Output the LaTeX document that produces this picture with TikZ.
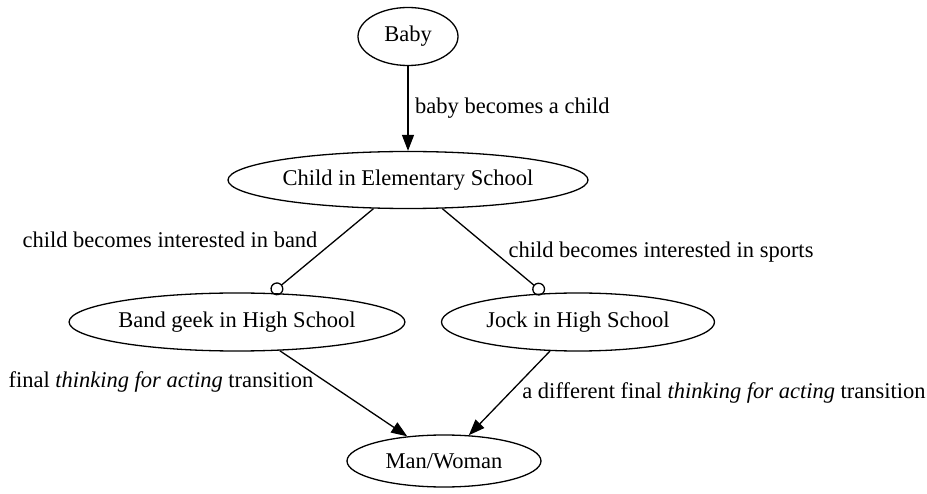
\documentclass[tikz,border=0pt]{standalone}
\usepackage{fontspec}
\setmainfont{Liberation Serif}
\usetikzlibrary{shapes.geometric,arrows.meta}
\begin{document}
\begin{tikzpicture}[x=1pt,y=-1pt,
  state/.style={ellipse,draw,line width=1.3pt,inner sep=0pt,
    font=\fontsize{22.5}{26}\selectfont},
  lbl/.style={inner sep=0pt,font=\fontsize{22.5}{26}\selectfont},
  edge/.style={line width=1.3pt},
  tri/.style={edge,-{Triangle[length=16pt,width=12pt]}},
  odot/.style={edge,-{Circle[open,length=13pt,width=13pt,line width=1.3pt]}}]
  \useasboundingbox (0,0) rectangle (927,494);
  % states
  \node[state,minimum width=100pt,minimum height=58pt] (baby) at (408,36.5) {Baby};
  \node[state,minimum width=360pt,minimum height=57pt] (child) at (408,180) {Child in Elementary School};
  \node[state,minimum width=335pt,minimum height=58pt] (band) at (237,322) {Band geek in High School};
  \node[state,minimum width=273pt,minimum height=58pt] (jock) at (578,322) {Jock in High School};
  \node[state,minimum width=194pt,minimum height=52pt] (man) at (444,461) {Man/Woman};
  % transitions
  \draw[tri] (baby) -- (child);
  \draw[odot] (child) -- (band);
  \draw[odot] (child) -- (jock);
  \draw[tri] (band) -- (man);
  \draw[tri] (jock) -- (man);
  % transition labels
  \node[lbl,anchor=west] (l1) at (415,108) {baby becomes a child};
  \node[lbl] (l2) at (170,240) {child becomes interested in band};
  \node[lbl] (l3) at (661,252) {child becomes interested in sports};
  \node[lbl] (l4) at (161,382) {final \textit{thinking for acting} transition};
  \node[lbl] (l5) at (724,393) {a different final \textit{thinking for acting} transition};
\end{tikzpicture}
\end{document}
